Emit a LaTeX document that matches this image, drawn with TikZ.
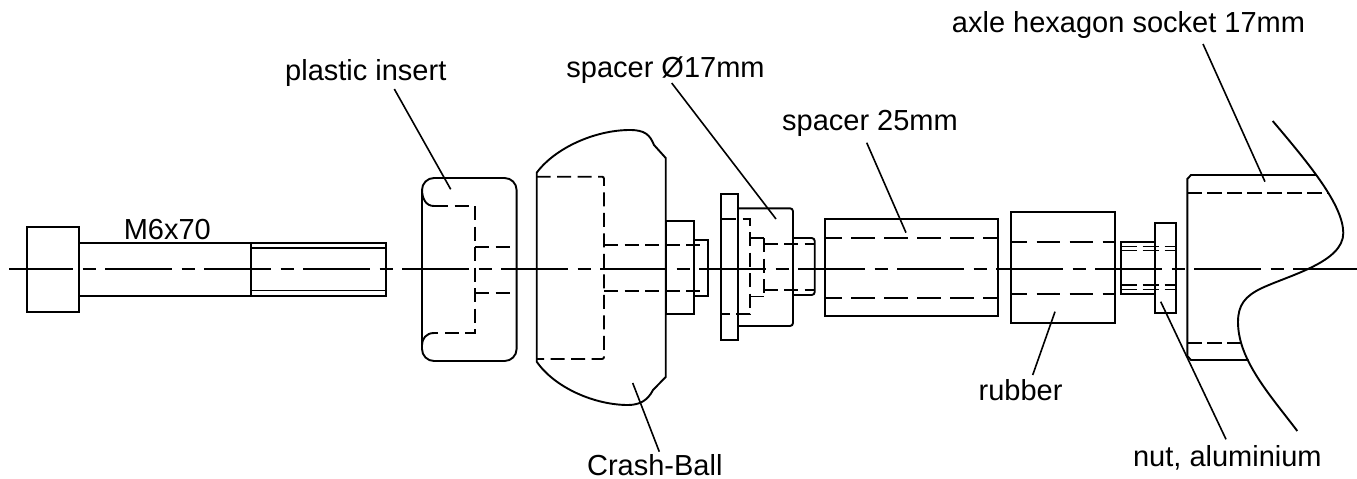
\documentclass[tikz,border=0pt]{standalone}
\usepackage{fontspec}
\setmainfont{Liberation Sans}
\usepackage{tikz}
\tikzset{
  part/.style={line width=1.9pt},
  thin part/.style={line width=1.5pt},
  hidden/.style={line width=1.9pt,dash pattern=on 14pt off 6.5pt},
  hidden long/.style={line width=1.9pt,dash pattern=on 23.5pt off 9.5pt,dash phase=7pt},
  axis/.style={line width=1.9pt,dash pattern=on 67pt off 9.5pt on 13pt off 9.5pt,dash phase=3pt},
  leader/.style={line width=1.6pt},
  partname/.style={anchor=base,inner sep=0pt,font=\fontsize{29}{34}\selectfont}
}
\begin{document}
\begin{tikzpicture}[x=1pt,y=-1pt]
\useasboundingbox (0,0) rectangle (1357,479);
% labels
\node [partname] (bolt) at (167.3,239) {M6x70};
\node [partname] (insert) at (365.8,80) {plastic insert};
\node [partname] (spacerA) at (665.5,77) {spacer Ø17mm};
\node [partname] (spacerB) at (870,130.5) {spacer 25mm};
\node [partname] (axle) at (1128.5,32) {axle hexagon socket 17mm};
\node [partname] (ball) at (654.8,475.5) {Crash-Ball};
\node [partname] (rubber) at (1020.5,400.7) {rubber};
\node [partname] (nut) at (1227.4,466.7) {nut, aluminium};
% leader ends
\coordinate (insertA) at (394.3,89);
\coordinate (insertB) at (450.7,189.3);
\coordinate (spacerAa) at (671.7,83);
\coordinate (spacerAb) at (776,219);
\coordinate (spacerBa) at (866.7,142.7);
\coordinate (spacerBb) at (906,232.7);
\coordinate (axleA) at (1203,44);
\coordinate (axleB) at (1265,181.7);
\coordinate (ballA) at (632.7,383);
\coordinate (ballB) at (659.3,451.7);
\coordinate (rubberA) at (1055,311.7);
\coordinate (rubberB) at (1032.7,375);
\coordinate (nutA) at (1160.7,301.7);
\coordinate (nutB) at (1226,439.3);
\draw[leader] (insertA) -- (insertB);
\draw[leader] (spacerAa) -- (spacerAb);
\draw[leader] (spacerBa) -- (spacerBb);
\draw[leader] (axleA) -- (axleB);
\draw[leader] (ballA) -- (ballB);
\draw[leader] (rubberA) -- (rubberB);
\draw[leader] (nutA) -- (nutB);
% center line
\draw[axis] (9,269.2) -- (1357,269.2);
% bolt
\draw[part] (26.7,227) rectangle (79.4,312);
\draw[part] (79.4,243) rectangle (250.8,296);
\draw[part] (250.8,243) rectangle (386,296);
\draw[thin part] (250.8,248) -- (386,248);
\draw[thin part] (250.8,290.6) -- (386,290.6);
% plastic insert
\draw[part,rounded corners=12pt] (422,178) rectangle (516.6,361);
\draw[part] (422,189) .. controls (422,199) and (426,206) .. (434,206);
\draw[part] (422,345) .. controls (422,339) and (426,333) .. (434,333);
\draw[hidden] (434,206) -- (475,206) -- (475,333) -- (434,333);
\draw[hidden] (475,246.7) -- (516.6,246.7);
\draw[hidden] (475,292.7) -- (516.6,292.7);
% crash ball
\draw[part] (536.7,172.7) .. controls (555,148) and (595,130) .. (630,130)
  .. controls (645,130) and (650,135) .. (654,145) -- (665.7,158) -- (665.7,377) -- (653,390)
  .. controls (648,400) and (640,405) .. (628,405)
  .. controls (595,405) and (555,388) .. (536.7,361.7) -- cycle;
\draw[hidden,rounded corners=2pt] (536.7,176.7) -- (604,176.7) -- (604,359) -- (536.7,359);
\draw[hidden] (604,245) -- (708,245);
\draw[hidden] (604,290.7) -- (708,290.7);
\draw[part] (665.7,220.7) rectangle (693.7,314);
\draw[part] (693.7,240) rectangle (708,295.7);
% spacer 17
\draw[part] (720.7,194.3) rectangle (738.3,340);
\draw[part,rounded corners=3pt] (738.3,208.3) -- (793,208.3) -- (793,326) -- (738.3,326);
\draw[part,rounded corners=3pt] (793,238) -- (814.7,238) -- (814.7,295) -- (793,295);
\draw[hidden] (722,219) -- (750,219) -- (750,314.3) -- (722,314.3);
\draw[part] (750,238) -- (763.7,238);
\draw[part] (750,296.5) -- (763.7,296.5);
\draw[hidden] (763.7,238) -- (763.7,296.5);
\draw[hidden] (763.7,244.3) -- (814.7,244.3);
\draw[hidden] (763.7,290) -- (814.7,290);
% spacer 25
\draw[part] (825,219.3) rectangle (998.3,316.3);
\draw[hidden long] (825,238) -- (998.3,238);
\draw[hidden long] (825,297.7) -- (998.3,297.7);
% rubber
\draw[part] (1010.7,212) rectangle (1115,323.3);
\draw[hidden long] (1010.7,242) -- (1115,242);
\draw[hidden long] (1010.7,294) -- (1115,294);
% nut
\draw[part] (1120.7,241.7) rectangle (1155,294);
\draw[part] (1155,222.7) rectangle (1176.3,313);
\foreach \ypos in {246.7,250.3,285,289.3}
  \draw[hidden,line width=1.5pt,dash pattern=on 16pt off 6pt] (1120.7,\ypos) -- (1176.3,\ypos);
% axle
\draw[part] (1316.7,175) -- (1191,175) -- (1187.3,179) -- (1187.3,356) -- (1191,360) -- (1248.7,360);
\draw[hidden,dash pattern=on 15pt off 5pt] (1187.3,192.7) -- (1328,192.7);
\draw[hidden,dash pattern=on 15pt off 5pt] (1187.3,342.7) -- (1241.7,342.7);
\draw[part] (1272.7,121) .. controls (1310,165) and (1343,205) .. (1343.3,233)
  .. controls (1343.3,262) and (1290,275) .. (1262,288)
  .. controls (1245,296) and (1238,305) .. (1238,322)
  .. controls (1238,360) and (1270,395) .. (1297.3,431);
\end{tikzpicture}
\end{document}
